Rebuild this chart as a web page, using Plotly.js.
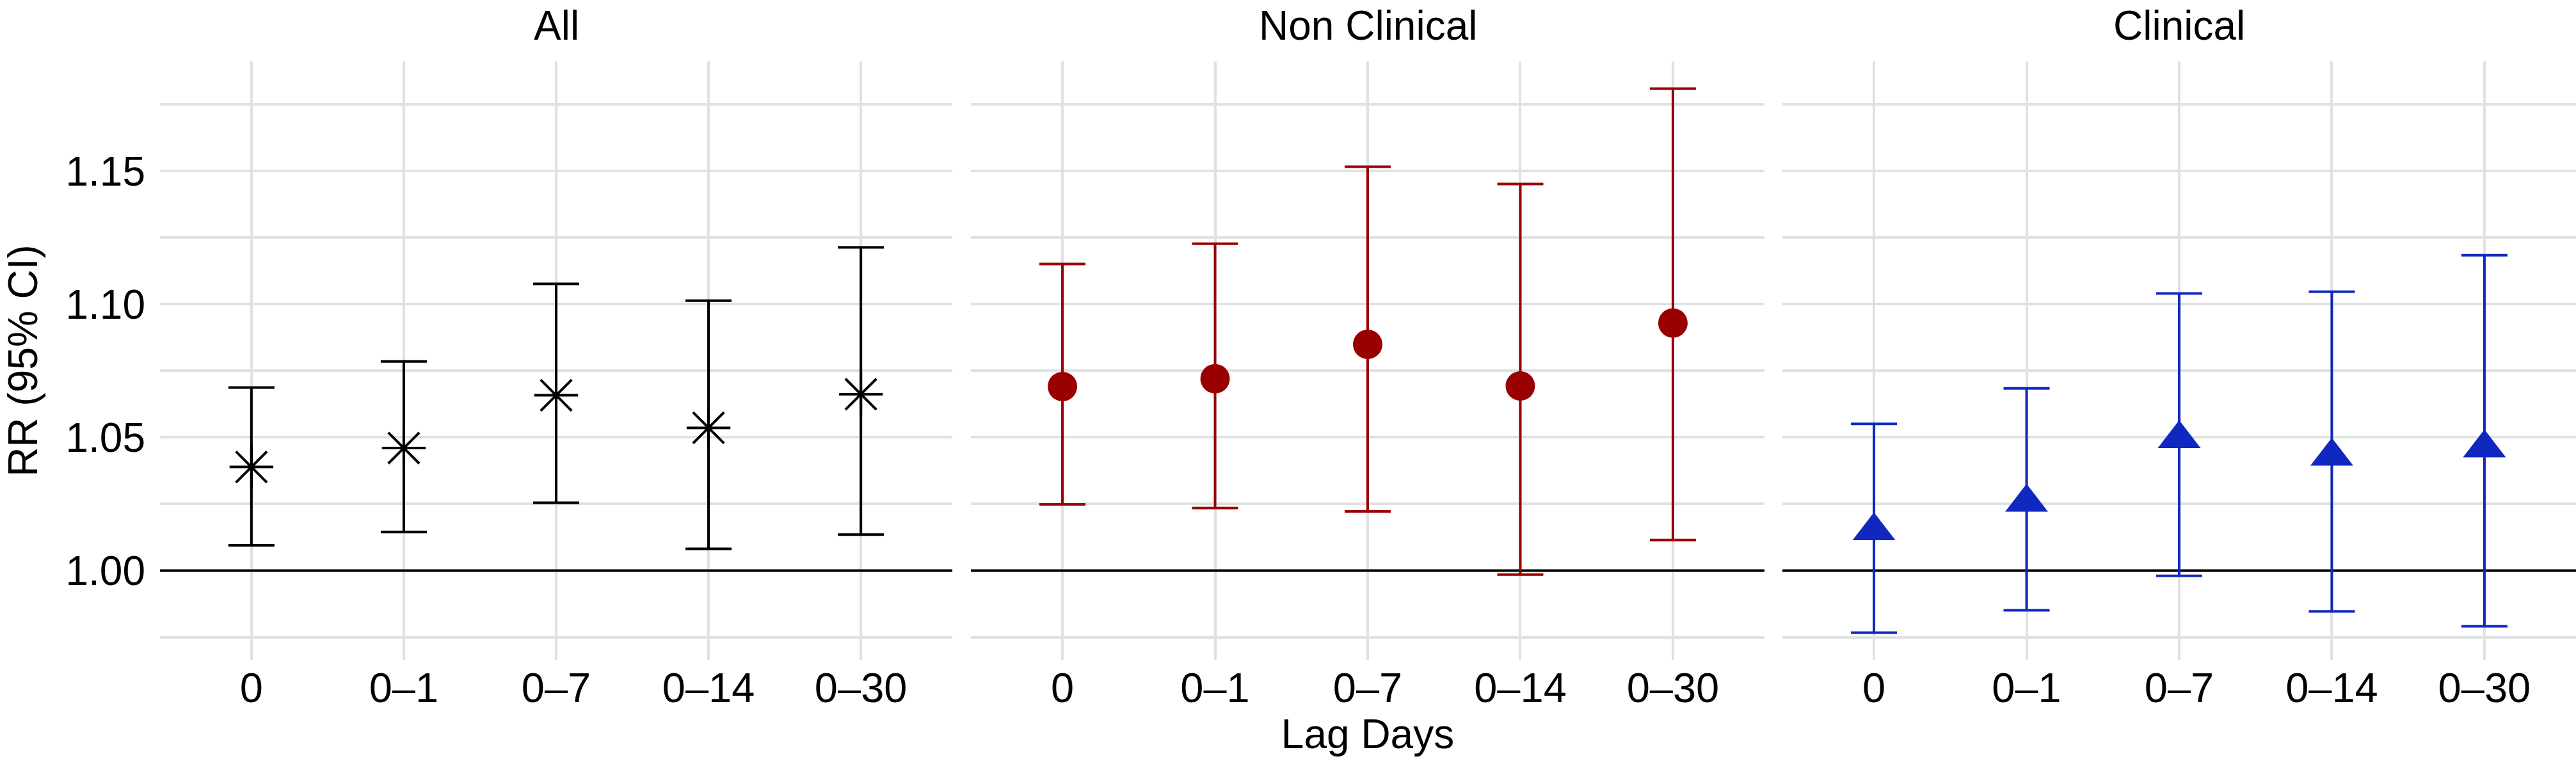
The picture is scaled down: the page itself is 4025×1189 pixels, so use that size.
<!DOCTYPE html>
<html>
<head>
<meta charset="utf-8">
<script src="https://cdn.plot.ly/plotly-3.0.1.min.js"></script>
<style>
  html, body { margin: 0; padding: 0; background: #ffffff; }
  #chart { width: 4025px; height: 1189px; }
</style>
</head>
<body>
<div id="chart"></div>
<script>
// ---- Data ----
const lagDays = ['0', '0–1', '0–7', '0–14', '0–30'];
const panelTitles = ['All', 'Non Clinical', 'Clinical'];

const allRR   = [1.0389, 1.0460, 1.0658, 1.0536, 1.0662];
const allLow  = [1.0095, 1.0145, 1.0255, 1.0082, 1.0135];
const allHigh = [1.0687, 1.0785, 1.1076, 1.1013, 1.1213];

const nonClinicalRR   = [1.0691, 1.0720, 1.0849, 1.0693, 1.0929];
const nonClinicalLow  = [1.0249, 1.0235, 1.0222, 0.9985, 1.0115];
const nonClinicalHigh = [1.1151, 1.1227, 1.1516, 1.1451, 1.1809];

const clinicalRR   = [1.0149, 1.0256, 1.0495, 1.0429, 1.0460];
const clinicalLow  = [0.9767, 0.9851, 0.9980, 0.9847, 0.9791];
const clinicalHigh = [1.0551, 1.0684, 1.1040, 1.1047, 1.1184];

const referenceRR = 1.0;

// ---- Styles ----
const gridColor = '#dee2e2';
const fontFamily = '"Liberation Sans", Arial, Helvetica, sans-serif';
const series = [
  { rr: allRR, lo: allLow, hi: allHigh, color: '#000000', symbol: 'asterisk-open', size: 57, lw: 4 },
  { rr: nonClinicalRR, lo: nonClinicalLow, hi: nonClinicalHigh, color: '#990000', symbol: 'circle', size: 46, lw: 0 },
  { rr: clinicalRR, lo: clinicalLow, hi: clinicalHigh, color: '#1128c0', symbol: 'triangle-up', size: 58, lw: 0 }
];

const traces = series.map((s, i) => {
  const sfx = i === 0 ? '' : String(i + 1);
  return {
    type: 'scatter',
    mode: 'markers',
    x: lagDays,
    y: s.rr,
    xaxis: 'x' + sfx,
    yaxis: 'y' + sfx,
    marker: {
      symbol: s.symbol,
      size: s.size,
      color: s.color,
      line: { color: s.color, width: s.lw }
    },
    error_y: {
      type: 'data',
      symmetric: false,
      array: s.hi.map((h, k) => h - s.rr[k]),
      arrayminus: s.lo.map((l, k) => s.rr[k] - l),
      color: s.color,
      thickness: 4,
      width: 36
    },
    hoverinfo: 'x+y',
    showlegend: false
  };
});

const domains = [[0, 0.32795], [0.33563, 0.66411], [0.67152, 1.0]];
const xRange = [-0.6, 4.6];
const yRange = [0.9665, 1.1911];

const layout = {
  width: 4025,
  height: 1189,
  margin: { l: 250, r: 0, t: 96, b: 158, pad: 0 },
  paper_bgcolor: '#ffffff',
  plot_bgcolor: '#ffffff',
  font: { family: fontFamily, color: '#000000', size: 64 },
  showlegend: false,
  shapes: [],
  annotations: []
};

domains.forEach((d, i) => {
  const sfx = i === 0 ? '' : String(i + 1);
  layout['xaxis' + sfx] = {
    domain: d,
    anchor: 'y' + sfx,
    type: 'category',
    range: xRange,
    showgrid: true,
    gridcolor: gridColor,
    gridwidth: 4,
    zeroline: false,
    showline: false,
    ticks: '',
    tickfont: { size: 65, color: '#000000' },
    fixedrange: true
  };
  layout['yaxis' + sfx] = {
    domain: [0, 1],
    anchor: 'x' + sfx,
    range: yRange,
    tick0: 1.0,
    dtick: 0.05,
    tickformat: '.2f',
    showgrid: true,
    gridcolor: gridColor,
    gridwidth: 4,
    minor: { dtick: 0.025, showgrid: true, gridcolor: gridColor, gridwidth: 4 },
    zeroline: false,
    showline: false,
    ticks: '',
    showticklabels: i === 0,
    tickfont: { size: 64, color: '#000000' },
    ticklabelstandoff: 22,
    fixedrange: true
  };
  layout.shapes.push({
    type: 'line',
    xref: 'x' + sfx,
    yref: 'y' + sfx,
    x0: xRange[0], x1: xRange[1],
    y0: referenceRR, y1: referenceRR,
    line: { color: '#000000', width: 4 },
    layer: 'between'
  });
  layout.annotations.push({
    text: panelTitles[i],
    xref: 'paper',
    yref: 'paper',
    x: (d[0] + d[1]) / 2,
    y: 1.06,
    xanchor: 'center',
    yanchor: 'middle',
    showarrow: false,
    font: { size: 64, color: '#000000' }
  });
});

layout.xaxis2.title = { text: 'Lag Days', font: { size: 64, color: '#000000' }, standoff: 8 };
layout.yaxis.title = { text: 'RR (95% CI)', font: { size: 64, color: '#000000' }, standoff: 24 };

Plotly.newPlot('chart', traces, layout, { displayModeBar: false, staticPlot: true });
</script>
</body>
</html>
